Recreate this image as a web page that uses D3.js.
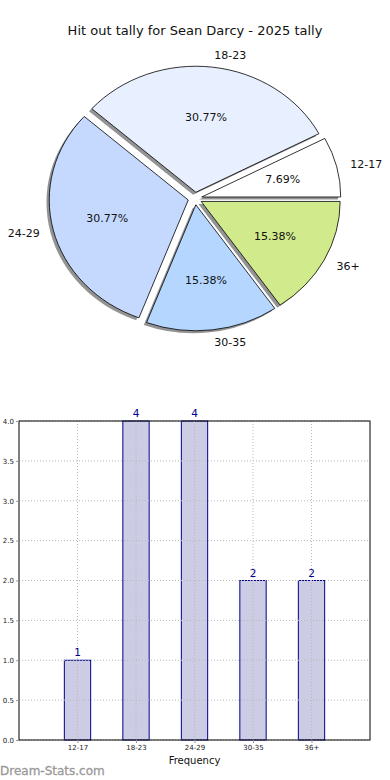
<!DOCTYPE html>
<html><head><meta charset="utf-8">
<script src="https://cdn.jsdelivr.net/npm/d3@7"></script>
<style>body{margin:0;background:#fff}svg{display:block}text{font-family:"DejaVu Sans",sans-serif}</style>
</head><body>
<script>
const categories = ["12-17","18-23","24-29","30-35","36+"];
const values = [1,4,4,2,2];
const pieColors = ["#ffffff","#e8f0ff","#c5d9ff","#b5d7ff","#d0ea8c"];
const yTicks = [0,0.5,1,1.5,2,2.5,3,3.5,4];
const title = "Hit out tally for Sean Darcy - 2025 tally";

const W=390,H=780;
const svg=d3.select("body").append("svg").attr("width",W).attr("height",H);

svg.append("text").attr("x",195).attr("y",35).attr("text-anchor","middle")
  .attr("font-size",13).attr("fill","#111").text(title);

// Pie (elliptical as in source)
const cx=195, cy=198.5, rx=139, ry=126, ex=0.05;
const sx=rx/ry;
const pie=d3.pie().sort(null).startAngle(Math.PI/2).endAngle(Math.PI/2-2*Math.PI)(values);
const total=d3.sum(values);
const arc=d3.arc().innerRadius(0).outerRadius(ry);
const gp=svg.append("g").attr("transform",`translate(${cx},${cy}) scale(${sx},1)`);
pie.forEach((d,i)=>{
  const mid=(d.startAngle+d.endAngle)/2;
  const ox=Math.sin(mid)*ex*ry, oy=-Math.cos(mid)*ex*ry;
  gp.append("path").attr("d",arc(d))
    .attr("transform",`translate(${ox-0.02*ry},${oy+0.02*ry})`)
    .attr("fill","#808080").attr("opacity",0.85);
});
pie.forEach((d,i)=>{
  const mid=(d.startAngle+d.endAngle)/2;
  const ox=Math.sin(mid)*ex*ry, oy=-Math.cos(mid)*ex*ry;
  gp.append("path").attr("d",arc(d))
    .attr("transform",`translate(${ox},${oy})`)
    .attr("fill",pieColors[i]).attr("stroke","#000").attr("stroke-width",0.8)
    .attr("vector-effect","non-scaling-stroke").attr("stroke-linejoin","round");
});
pie.forEach((d,i)=>{
  const mid=(d.startAngle+d.endAngle)/2;
  const ux=Math.sin(mid), uy=-Math.cos(mid);
  const bx=cx+ux*ex*rx, by=cy+uy*ex*ry;
  const lx=bx+ux*1.1*rx, ly=by+uy*1.1*ry;
  svg.append("text").attr("x",lx).attr("y",ly).attr("dy","0.35em")
    .attr("text-anchor",ux>0?"start":"end").attr("font-size",11).attr("fill","#111")
    .text(categories[i]);
  const px=bx+ux*0.6*rx, py=by+uy*0.6*ry;
  svg.append("text").attr("x",px).attr("y",py).attr("dy","0.35em")
    .attr("text-anchor","middle").attr("font-size",11).attr("fill","#111")
    .text((values[i]/total*100).toFixed(2)+"%");
});

// Bar chart
const L=19,R=370,T=421,B=740;
const x=d3.scaleLinear().domain([-1,5]).range([L,R]);
const y=d3.scaleLinear().domain([0,4]).range([B,T]);
const gb=svg.append("g");
gb.selectAll("rect.bar").data(values).join("rect")
  .attr("x",(d,i)=>x(i-0.225)).attr("width",x(0.45)-x(0))
  .attr("y",d=>y(d)).attr("height",d=>B-y(d))
  .attr("fill","#ccccE5").attr("stroke","#00008b").attr("stroke-width",1);
// grid
yTicks.forEach(t=>{
  gb.append("line").attr("x1",L).attr("x2",R).attr("y1",y(t)).attr("y2",y(t))
    .attr("stroke","#b8b8b8").attr("stroke-width",1).attr("stroke-dasharray","1,2");
});
categories.forEach((c,i)=>{
  gb.append("line").attr("x1",x(i)).attr("x2",x(i)).attr("y1",T).attr("y2",B)
    .attr("stroke","#b8b8b8").attr("stroke-width",1).attr("stroke-dasharray","1,2");
});
gb.append("rect").attr("x",L).attr("y",T).attr("width",R-L).attr("height",B-T)
  .attr("fill","none").attr("stroke","#000").attr("stroke-width",1);
// axes labels
const yAxis=d3.axisLeft(y).tickValues(yTicks).tickFormat(d3.format(".1f")).tickSize(3).tickPadding(2);
const ga=svg.append("g").attr("transform",`translate(${L},0)`).call(yAxis);
ga.select(".domain").remove();
ga.selectAll("line").attr("stroke","#999");
ga.selectAll("text").attr("font-size",7).attr("fill","#222").attr("font-family","DejaVu Sans");
const xAxis=d3.axisBottom(x).tickValues(d3.range(categories.length)).tickFormat(i=>categories[i]).tickSize(3).tickPadding(2);
const gx=svg.append("g").attr("transform",`translate(0,${B})`).call(xAxis);
gx.select(".domain").remove();
gx.selectAll("line").attr("stroke","#999");
gx.selectAll("text").attr("font-size",7).attr("fill","#222").attr("font-family","DejaVu Sans");
svg.append("text").attr("x",(L+R)/2).attr("y",764).attr("text-anchor","middle")
  .attr("font-size",10).attr("fill","#111").text("Frequency");
// value labels
values.forEach((v,i)=>{
  svg.append("text").attr("x",x(i)).attr("y",y(v)-4).attr("text-anchor","middle")
    .attr("font-size",10.5).attr("fill","#00008b").text(v);
});
// watermark
svg.append("text").attr("x",0).attr("y",775).attr("font-size",12)
  .attr("fill","#999").attr("stroke","#999").attr("stroke-width",0.3).text("Dream-Stats.com");
</script>
</body></html>
